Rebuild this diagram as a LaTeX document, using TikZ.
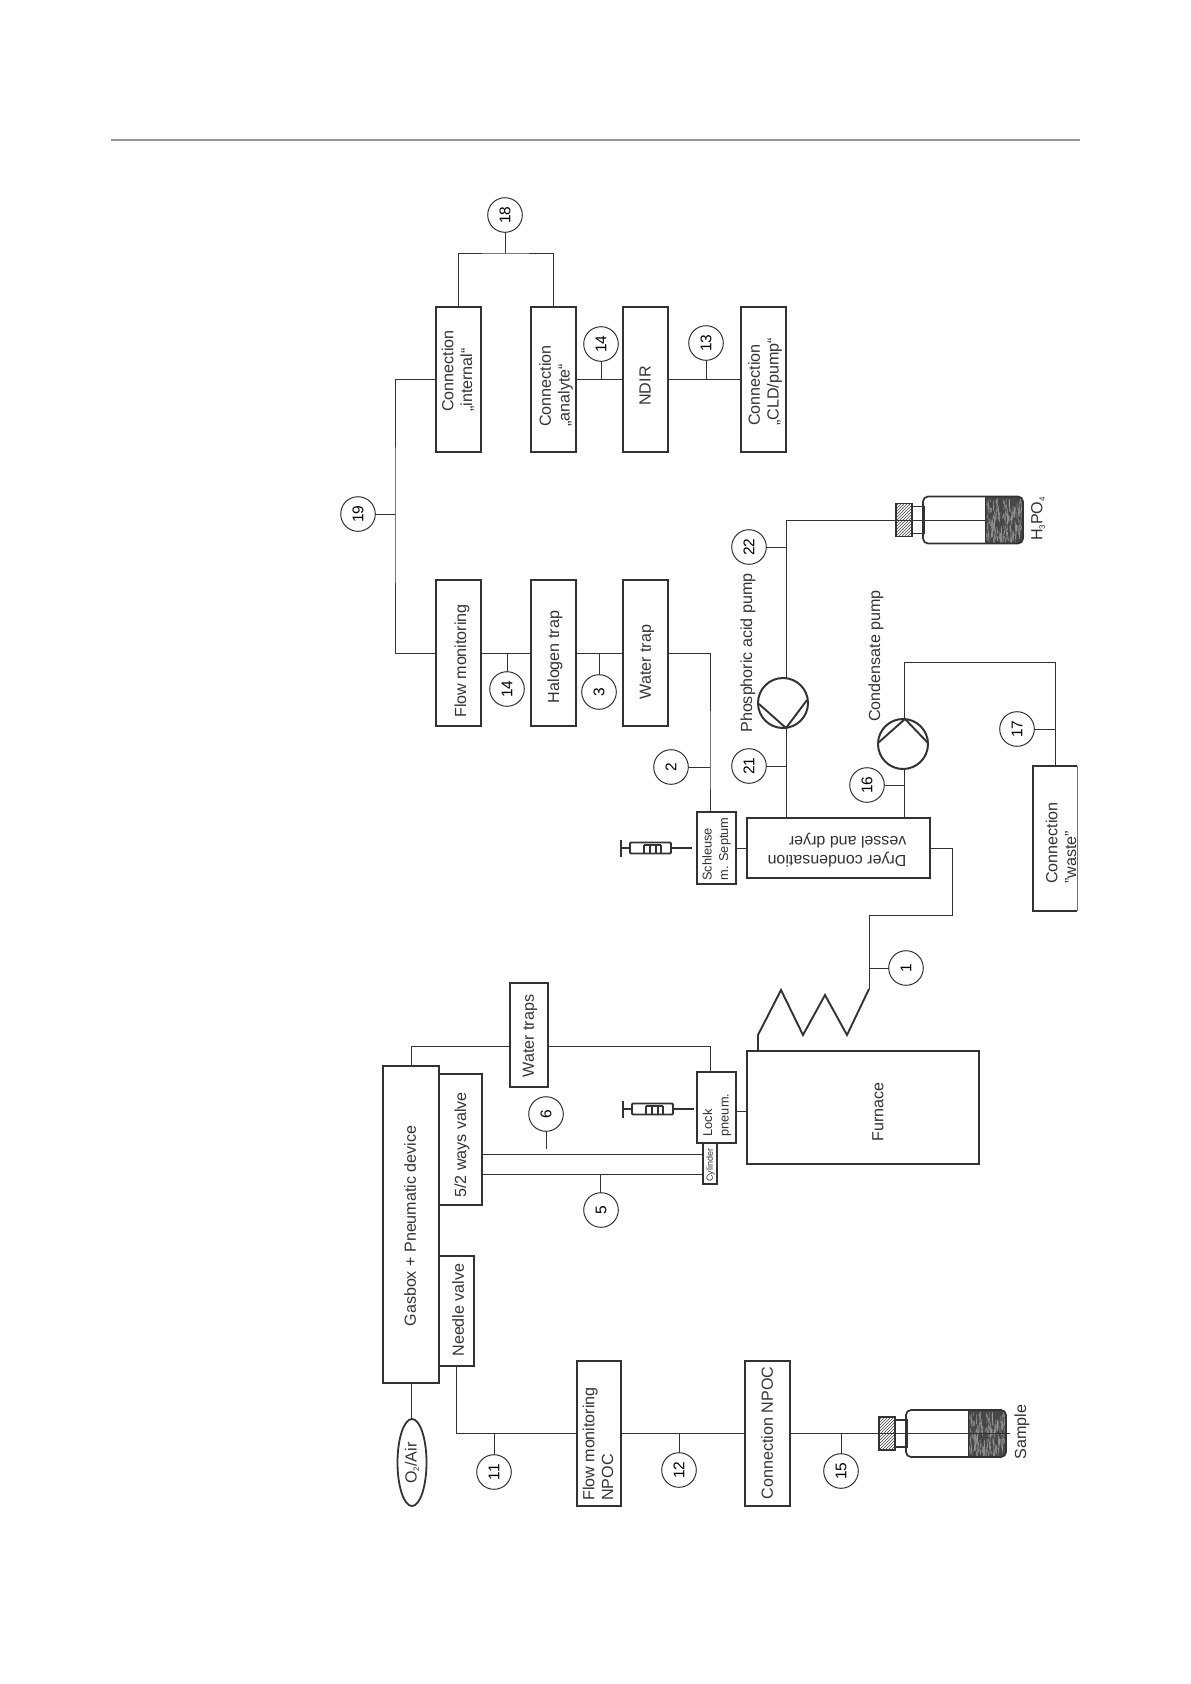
\documentclass[tikz,border=0pt]{standalone}
\usepackage{fontspec}
\setmainfont{Liberation Sans}
\usetikzlibrary{shapes.geometric,patterns}
\definecolor{ln}{HTML}{333333}
\newcommand{\lowsub}[1]{\raisebox{-2.5pt}{\fontsize{8}{8}\selectfont #1}}
\tikzset{
  box/.style={draw=ln,line width=1.9pt,fill=none,inner sep=0pt,outer sep=0pt,rectangle},
  wire/.style={draw=ln,line width=0.9pt,line join=miter},
  tag/.style={circle,draw=ln,line width=1pt,fill=white,minimum size=34.6pt,inner sep=0pt,outer sep=0pt,font=\fontsize{15.5}{15.5}\selectfont},
  lab/.style={rotate=90,align=left,inner sep=0pt,text=ln,font=\fontsize{16.1}{18.8}\selectfont},
  slab/.style={rotate=90,align=left,inner sep=0pt,text=ln,font=\fontsize{12.8}{16.5}\selectfont},
  pumpc/.style={circle,draw=ln,line width=2pt,minimum size=50pt,inner sep=0pt,outer sep=0pt},
  heavy/.style={draw=ln,line width=1.9pt,line join=miter},
  vial/.pic={
    \draw[line width=1.5pt,draw=ln,fill=white] (16,-13.5) rectangle (28,13.5);
    \draw[line width=1.7pt,draw=ln,pattern=north east lines,pattern color=black!75] (0,-16.5) rectangle (16,16.5);
    \begin{scope}
      \clip[rounded corners=5pt] (27,-23.5) rectangle (127,23.5);
      \fill[black!72] (89.5,-24) rectangle (128,24);
      \pgfmathsetseed{17}
      \foreach \k in {1,...,170}{
        \pgfmathsetmacro{\xa}{90+rnd*37}
        \pgfmathsetmacro{\ya}{-23+rnd*42}
        \pgfmathsetmacro{\yb}{\ya+3+rnd*7}
        \draw[black!38,line width=0.5pt] (\xa,\ya) -- (\xa+rnd*2-1,\yb);
      }
    \end{scope}
    \draw[line width=1.7pt,draw=ln] (89.5,-23.5) -- (89.5,23.5);
    \draw[line width=1.7pt,draw=ln,rounded corners=5pt] (27,-23.5) rectangle (127,23.5);
  },
  syringe/.pic={
    \draw[line width=1.9pt,draw=ln] (0,-8.5) -- (0,8.5);
    \draw[line width=1.9pt,draw=ln] (0,0) -- (9,0);
    \draw[line width=1.8pt,draw=ln,rounded corners=1pt] (9,-5.5) rectangle (50,5.5);
    \draw[line width=1.6pt,draw=ln] (50,0) -- (71,0);
    \draw[line width=1.2pt,draw=ln] (23,-3) -- (40,-3) (23,-3) -- (23,5.5) (29,-3) -- (29,5.5) (35,-3) -- (35,5.5) (40,-3) -- (40,5.5);
  }
}
\begin{document}
\begin{tikzpicture}[x=1pt,y=-1pt]
\useasboundingbox[fill=white] (0,0) rectangle (1191,1684);
\coordinate (ruleA) at (111,140);
\coordinate (ruleB) at (1080,140);
\draw[line width=2pt,draw=black!42] (ruleA) -- (ruleB);

% boxes
\node[box,minimum width=45pt,minimum height=145pt] (internal) at (458.5,379.5) {};
\node[box,minimum width=45pt,minimum height=145pt] (analyte) at (553.5,379.5) {};
\node[box,minimum width=45pt,minimum height=145pt] (ndir) at (645.5,379.5) {};
\node[box,minimum width=45pt,minimum height=145pt] (cld) at (763.5,379.5) {};
\node[box,minimum width=45pt,minimum height=146pt] (flowm) at (458.5,653) {};
\node[box,minimum width=45pt,minimum height=146pt] (halogen) at (553.5,653) {};
\node[box,minimum width=45pt,minimum height=146pt] (watertrap) at (645.5,653) {};
\node[box,minimum width=39pt,minimum height=72pt] (schleuse) at (716.5,848) {};
\node[box,minimum width=183pt,minimum height=60pt] (dryer) at (838.5,848) {};
\node[box,minimum width=232pt,minimum height=113pt] (furnace) at (863,1107.5) {};
\node[box,minimum width=39pt,minimum height=71pt] (lock) at (716.5,1107.5) {};
\node[box,line width=1.3pt,minimum width=14pt,minimum height=41pt] (cyl) at (710,1163.5) {};
\node[box,minimum width=56pt,minimum height=317pt] (gasbox) at (411,1224.5) {};
\node[box,minimum width=43pt,minimum height=131pt] (valve) at (460.5,1139.5) {};
\node[box,minimum width=35pt,minimum height=110pt] (needle) at (456.5,1311) {};
\node[box,minimum width=38pt,minimum height=104pt] (watertraps) at (529,1035) {};
\node[box,minimum width=44pt,minimum height=145pt] (flownpoc) at (599,1433.5) {};
\node[box,minimum width=45pt,minimum height=145pt] (connnpoc) at (767.5,1433.5) {};
\node[inner sep=0pt,outer sep=0pt,rectangle,minimum width=44pt,minimum height=145pt] (waste) at (1055,838.5) {};
\draw[box] (waste.north east) -- (waste.north west) -- (waste.south west) -- (waste.south east);
\draw[draw=black!55,line width=0.7pt] (waste.north east) -- (waste.south east);
\node[ellipse,draw=ln,line width=1.8pt,inner sep=0pt,outer sep=0pt,minimum width=29pt,minimum height=87pt] (otwo) at (412,1462.5) {};

% box texts
\node[lab] (tInternal) at (458,371) {Connection\\„internal“};
\node[lab] (tAnalyte) at (556,386) {Connection\\„analyte“};
\node[lab] (tNdir) at (645,386) {NDIR};
\node[lab] (tCld) at (765,382) {Connection\\„CLD/pump“};
\node[lab] (tFlow) at (462,661) {Flow monitoring};
\node[lab] (tHalogen) at (555,657) {Halogen trap};
\node[lab] (tWater) at (647,662) {Water trap};
\node[slab] (tSchleuse) at (716.5,849) {Schleuse\\m. Septum};
\node[inner sep=0pt,align=left,rotate=180,text=ln,font=\fontsize{16}{18.8}\selectfont] (tDryer) at (837,850) {Dryer condensation\\vessel and dryer};
\node[lab] (tFurnace) at (878,1112) {Furnace};
\node[slab] (tLock) at (717,1115) {Lock\\pneum.};
\node[rotate=90,inner sep=0pt,text=ln,font=\fontsize{9}{9}\selectfont] (tCyl) at (710.5,1165) {Cylinder};
\node[lab] (tGas) at (410,1226) {Gasbox + Pneumatic device};
\node[lab] (tValve) at (462,1145) {5/2 ways valve};
\node[lab] (tNeedle) at (458,1310) {Needle valve};
\node[lab] (tTraps) at (530,1036) {Water traps};
\node[lab] (tFlowN) at (598,1444) {Flow monitoring\\NPOC};
\node[lab] (tConnN) at (767,1433) {Connection NPOC};
\node[lab] (tWaste) at (1061,843) {Connection\\"waste"};
\node[lab] (tOtwo) at (412,1463) {O\lowsub{2}/Air};
\node[lab] (tSample) at (1022,1432) {Sample};
\node[lab] (tHthree) at (1038,519) {H\lowsub{3}PO\lowsub{4}};
\node[lab] (tPhos) at (748,653) {Phosphoric acid pump};
\node[lab] (tCond) at (876,656) {Condensate pump};

% pumps
\node[pumpc] (pumpP) at (783,703) {};
\node[pumpc] (pumpC) at (903,744) {};
\draw[heavy] ([shift={(-24,1)}]pumpP.center) -- ([shift={(3,25)}]pumpP.center) -- ([shift={(24,-3)}]pumpP.center);
\draw[heavy] ([shift={(-25,-1)}]pumpC.center) -- ([shift={(2,-25)}]pumpC.center) -- ([shift={(25,-1)}]pumpC.center);

% number tags
\node[tag] (c18) at (505,215) {\rotatebox{90}{18}};
\node[tag] (c14a) at (601,344) {\rotatebox{90}{14}};
\node[tag] (c13) at (706,343) {\rotatebox{90}{13}};
\node[tag] (c19) at (358,514) {\rotatebox{90}{19}};
\node[tag] (c14b) at (507,689) {\rotatebox{90}{14}};
\node[tag] (c3) at (599,692) {\rotatebox{90}{3}};
\node[tag] (c2) at (671,767) {\rotatebox{90}{2}};
\node[tag] (c22) at (749,547) {\rotatebox{90}{22}};
\node[tag] (c21) at (749,766) {\rotatebox{90}{21}};
\node[tag] (c16) at (867,785) {\rotatebox{90}{16}};
\node[tag] (c17) at (1017,729) {\rotatebox{90}{17}};
\node[tag] (c1) at (906,968) {\rotatebox{90}{1}};
\node[tag] (c6) at (546,1114) {\rotatebox{90}{6}};
\node[tag] (c5) at (601,1210) {\rotatebox{90}{5}};
\node[tag] (c11) at (494,1472) {\rotatebox{90}{11}};
\node[tag] (c12) at (679,1470) {\rotatebox{90}{12}};
\node[tag] (c15) at (841,1471) {\rotatebox{90}{15}};

% helper coordinates
\coordinate (top18) at (505,253);
\coordinate (x19) at (395,514);
\coordinate (x710) at (710,767);
\coordinate (p1) at (786,520);
\coordinate (p2) at (786,547);
\coordinate (p3) at (786,766);
\coordinate (q1) at (904,662);
\coordinate (q2) at (904,785);
\coordinate (q3) at (1055,729);
\coordinate (d1) at (952,848);
\coordinate (d2) at (952,915);
\coordinate (d3) at (869,915);
\coordinate (d4) at (869,968);
\coordinate (coilA) at (869,989);
\coordinate (g1) at (710,1046);
\coordinate (g2) at (411,1046);
\coordinate (k1) at (740,1111);
\coordinate (v1) at (545,1154);
\coordinate (v2) at (600,1174);
\coordinate (v3) at (546,1149);
\coordinate (vialH) at (896,520);
\coordinate (vialS) at (879,1433.5);
\coordinate (end1) at (1010,1433.5);

% connectors
\draw[wire] (c18.south) -- (top18);
\draw[wire] (internal.north) |- (top18) -| (analyte.north);
\draw[wire] (internal.west) -| (x19) -- (x19 |- flowm.west) -- (flowm.west);
\draw[wire] (c19.east) -- (x19);
\draw[wire] (analyte.east) -- (ndir.west);
\draw[wire] (ndir.east) -- (cld.west);
\draw[wire] (c14a.south) -- (c14a.south |- ndir.west);
\draw[wire] (c13.south) -- (c13.south |- ndir.east);
\draw[wire] (flowm.east) -- (halogen.west);
\draw[wire] (halogen.east) -- (watertrap.west);
\draw[wire] (c14b.north) -- (c14b.north |- flowm.east);
\draw[wire] (c3.north) -- (c3.north |- halogen.east);
\draw[wire] (watertrap.east) -| (x710) -- (x710 |- schleuse.north);
\draw[wire] (c2.east) -- (x710);
\draw[wire] (schleuse.east) -- (dryer.west);
\draw[wire] (vialH) -- (p1) -- (p1 |- pumpP.north);
\draw[wire] (c22.east) -- (p2);
\draw[wire] (p1 |- pumpP.south) -- (p1 |- dryer.north);
\draw[wire] (c21.east) -- (p3);
\draw[wire] (q1 |- pumpC.north) -- (q1) -- (waste.north |- q1) -- (waste.north);
\draw[wire] (q1 |- pumpC.south) -- (q1 |- dryer.north);
\draw[wire] (c16.east) -- (q2);
\draw[wire] (c17.east) -- (q3);
\draw[wire] (dryer.east) -- (d1) -- (d2) -- (d3) -- (coilA);
\draw[wire] (c1.west) -- (d4);
\draw[heavy] (coilA) -- (847,1035) -- (825,995) -- (803,1035) -- (781,990) -- (758,1035) -- (758,1050);
\draw[wire] (gasbox.north) -- (g2) -- (watertraps.west |- g2);
\draw[wire] (watertraps.east |- g1) -- (g1) -- (lock.north -| g1);
\draw[wire] (lock.east |- k1) -- (furnace.west |- k1);
\draw[wire] (valve.east |- v1) -- (cyl.west |- v1);
\draw[wire] (valve.east |- v2) -- (cyl.west |- v2);
\draw[wire] (c6.south) -- (v3);
\draw[wire] (v2 |- c5.north) -- (v2);
\draw[wire] (gasbox.south) -- (gasbox.south |- otwo.north);
\draw[wire] (needle.south) |- (flownpoc.west);
\draw[wire] (flownpoc.east) -- (connnpoc.west);
\draw[wire] (connnpoc.east) -- (vialS);
\draw[wire] (c11.north) -- (c11.north |- flownpoc.west);
\draw[wire] (c12.north) -- (c12.north |- flownpoc.west);
\draw[wire] (c15.north) -- (c15.north |- connnpoc.east);

% vials and syringes
\pic at (vialH) {vial};
\pic at (vialS) {vial};
\draw[wire] (vialH) -- ++(89,0);
\draw[wire] (vialS) -- (end1);
\pic at (621,848) {syringe};
\pic at (623,1109) {syringe};
\end{tikzpicture}
\end{document}
